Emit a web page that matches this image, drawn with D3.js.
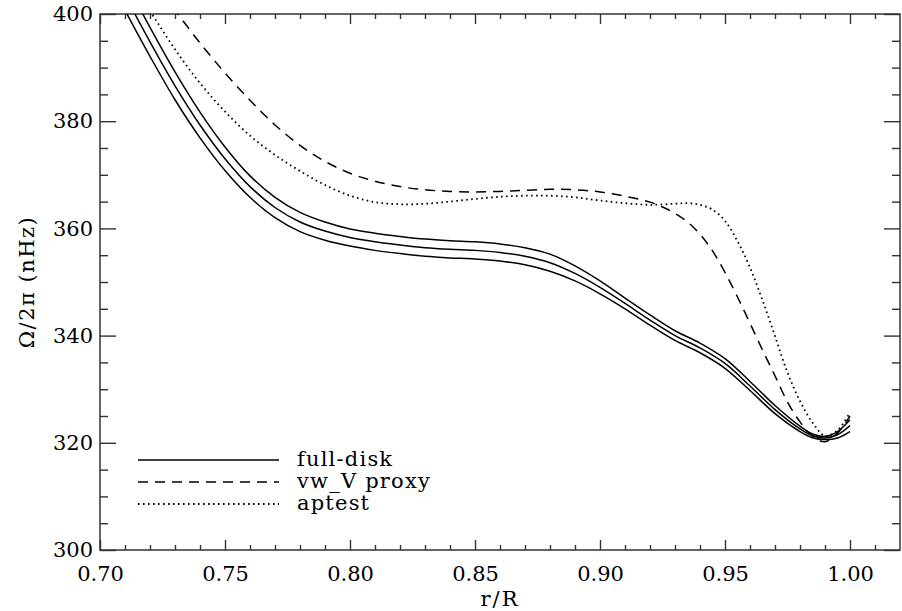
<!DOCTYPE html>
<html>
<head>
<meta charset="utf-8">
<script src="https://cdn.jsdelivr.net/npm/d3@7"></script>
<style>
  body { margin: 0; background: #fff; }
  text { font-family: "DejaVu Serif", serif; fill: #000; }
</style>
</head>
<body>
<div id="chart"></div>
<script>
// radius grid (r/R) and rotation rates (nHz)
var fullR = [0.705, 0.71, 0.72, 0.73, 0.74, 0.75, 0.76, 0.77, 0.78, 0.79, 0.80, 0.81, 0.82, 0.83,
  0.84, 0.85, 0.86, 0.87, 0.88, 0.89, 0.90, 0.91, 0.92, 0.93, 0.94, 0.95, 0.96, 0.97, 0.98,
  0.985, 0.99, 0.995, 1.00];
var fullMid = [408.0, 403.5, 394.8, 386.6, 379.3, 373.0, 367.8, 363.9, 361.2, 359.5, 358.3, 357.5,
  356.9, 356.4, 356.1, 355.9, 355.5, 354.8, 353.6, 351.6, 349.0, 346.0, 342.9, 340.0, 337.7,
  334.8, 330.6, 326.2, 322.6, 321.3, 320.9, 321.5, 323.2];
var fullErr = [2.8, 2.8, 2.7, 2.6, 2.4, 2.2, 2.0, 1.9, 1.8, 1.7, 1.6, 1.6, 1.6, 1.6, 1.6, 1.6,
  1.6, 1.6, 1.6, 1.4, 1.2, 1.0, 0.95, 0.9, 0.9, 0.9, 0.85, 0.75, 0.5, 0.35, 0.3, 0.6, 1.1];

var vwR = [0.725, 0.73, 0.74, 0.75, 0.76, 0.77, 0.78, 0.79, 0.80, 0.81, 0.82, 0.83, 0.84,
  0.85, 0.86, 0.87, 0.88, 0.89, 0.90, 0.91, 0.92, 0.925, 0.93, 0.935, 0.94, 0.945, 0.95, 0.955,
  0.96, 0.965, 0.97, 0.975, 0.98, 0.985, 0.99, 0.995, 1.00];
var vwVal = [403.8, 400.7, 394.6, 389.0, 383.9, 379.3, 375.5, 372.5, 370.3, 368.8, 367.8, 367.2,
  366.9, 366.8, 366.9, 367.1, 367.3, 367.2, 366.8, 366.0, 364.9, 364.0, 362.8, 361.2, 358.9,
  355.8, 351.8, 347.2, 342.3, 337.3, 332.5, 327.6, 323.9, 321.2, 320.2, 321.8, 325.0];

var apR = [0.715, 0.7207, 0.73, 0.74, 0.75, 0.76, 0.77, 0.78, 0.79, 0.80, 0.81, 0.82, 0.83, 0.84,
  0.85, 0.86, 0.87, 0.88, 0.89, 0.90, 0.91, 0.92, 0.93, 0.935, 0.94, 0.945, 0.95, 0.955, 0.96,
  0.965, 0.97, 0.975, 0.98, 0.985, 0.99, 0.995, 1.00];
var apVal = [403.5, 400.0, 393.4, 387.1, 381.8, 377.3, 373.7, 370.7, 368.1, 366.1, 364.9, 364.5,
  364.6, 365.0, 365.5, 365.9, 366.1, 366.1, 365.8, 365.2, 364.7, 364.4, 364.6, 364.7, 364.4,
  363.5, 361.4, 357.6, 352.7, 346.6, 339.9, 333.1, 327.8, 323.8, 321.3, 322.3, 325.7];

var xMajor = [0.70, 0.75, 0.80, 0.85, 0.90, 0.95, 1.00];
var yMajor = [300, 320, 340, 360, 380, 400];
var legendLabels = ["full-disk", "vw_V proxy", "aptest"];

var width = 902, height = 611;
var pLeft = 100, pRight = 900, pTop = 14, pBottom = 550;

var svg = d3.select("#chart").append("svg")
  .attr("width", width)
  .attr("height", height);

var x = d3.scaleLinear().domain([0.70, 1.02]).range([pLeft, pRight]);
var y = d3.scaleLinear().domain([300, 400]).range([pBottom, pTop]);

var xMinor = d3.range(71, 102).map(function (d) { return d / 100; })
  .filter(function (d) { return xMajor.indexOf(d) == -1; });
var yMinor = d3.range(305, 400, 5).filter(function (d) { return yMajor.indexOf(d) == -1; });

svg.append("clipPath").attr("id", "plotclip")
  .append("rect").attr("x", pLeft).attr("y", pTop)
  .attr("width", pRight - pLeft).attr("height", pBottom - pTop);

function drawAxis(axis, tx, ty) {
  var g = svg.append("g")
    .attr("transform", "translate(" + tx + "," + ty + ")")
    .call(axis);
  g.select(".domain").remove();
  g.selectAll("line").attr("stroke", "#333").attr("stroke-width", 1.4);
  return g;
}

// major and minor ticks on all four sides, pointing inward
drawAxis(d3.axisBottom(x).tickValues(xMajor).tickSize(-10).tickFormat(d3.format(".2f")), 0, pBottom)
  .selectAll("text").attr("font-size", 21).attr("y", 16).attr("dy", "0.71em");
drawAxis(d3.axisBottom(x).tickValues(xMinor).tickSize(-5).tickFormat(""), 0, pBottom);
drawAxis(d3.axisTop(x).tickValues(xMajor).tickSize(-10).tickFormat(""), 0, pTop);
drawAxis(d3.axisTop(x).tickValues(xMinor).tickSize(-5).tickFormat(""), 0, pTop);
drawAxis(d3.axisLeft(y).tickValues(yMajor).tickSize(-16).tickFormat(d3.format("d")), pLeft, 0)
  .selectAll("text").attr("font-size", 21).attr("x", -7);
drawAxis(d3.axisLeft(y).tickValues(yMinor).tickSize(-8).tickFormat(""), pLeft, 0);
drawAxis(d3.axisRight(y).tickValues(yMajor).tickSize(-16).tickFormat(""), pRight, 0);
drawAxis(d3.axisRight(y).tickValues(yMinor).tickSize(-8).tickFormat(""), pRight, 0);

svg.append("rect")
  .attr("x", pLeft).attr("y", pTop)
  .attr("width", pRight - pLeft).attr("height", pBottom - pTop)
  .attr("fill", "none").attr("stroke", "#333").attr("stroke-width", 1.5);

var line = d3.line()
  .x(function (d) { return x(d[0]); })
  .y(function (d) { return y(d[1]); })
  .curve(d3.curveCatmullRom.alpha(0.5));

var plot = svg.append("g").attr("clip-path", "url(#plotclip)");

[-1, 0, 1].forEach(function (k) {
  var pts = fullR.map(function (r, i) { return [r, fullMid[i] + k * fullErr[i]]; });
  plot.append("path").attr("d", line(pts))
    .attr("fill", "none").attr("stroke", "#000").attr("stroke-width", 1.5);
});

plot.append("path")
  .attr("d", line(vwR.map(function (r, i) { return [r, vwVal[i]]; })))
  .attr("fill", "none").attr("stroke", "#000").attr("stroke-width", 1.5)
  .attr("stroke-dasharray", "10,7");

plot.append("path")
  .attr("d", line(apR.map(function (r, i) { return [r, apVal[i]]; })))
  .attr("fill", "none").attr("stroke", "#000").attr("stroke-width", 1.8)
  .attr("stroke-dasharray", "1.6,3.4");

// legend
var dashes = [null, "10,7", "1.6,3.4"];
legendLabels.forEach(function (lab, i) {
  var ly = 460 + i * 22;
  svg.append("line")
    .attr("x1", 138).attr("x2", 279).attr("y1", ly).attr("y2", ly)
    .attr("stroke", "#000").attr("stroke-width", i == 2 ? 1.8 : 1.5)
    .attr("stroke-dasharray", dashes[i]);
  svg.append("text")
    .attr("x", 297).attr("y", ly + 6)
    .attr("font-size", 21)
    .attr("letter-spacing", 1.2)
    .text(lab);
});

// axis titles
svg.append("text")
  .attr("x", (pLeft + pRight) / 2).attr("y", 606)
  .attr("text-anchor", "middle").attr("font-size", 21)
  .attr("letter-spacing", 2)
  .text("r/R");

svg.append("text")
  .attr("transform", "translate(34," + ((pTop + pBottom) / 2) + ") rotate(-90)")
  .attr("text-anchor", "middle").attr("font-size", 21)
  .attr("letter-spacing", 1.5)
  .text("Ω/2π (nHz)");
</script>
</body>
</html>
